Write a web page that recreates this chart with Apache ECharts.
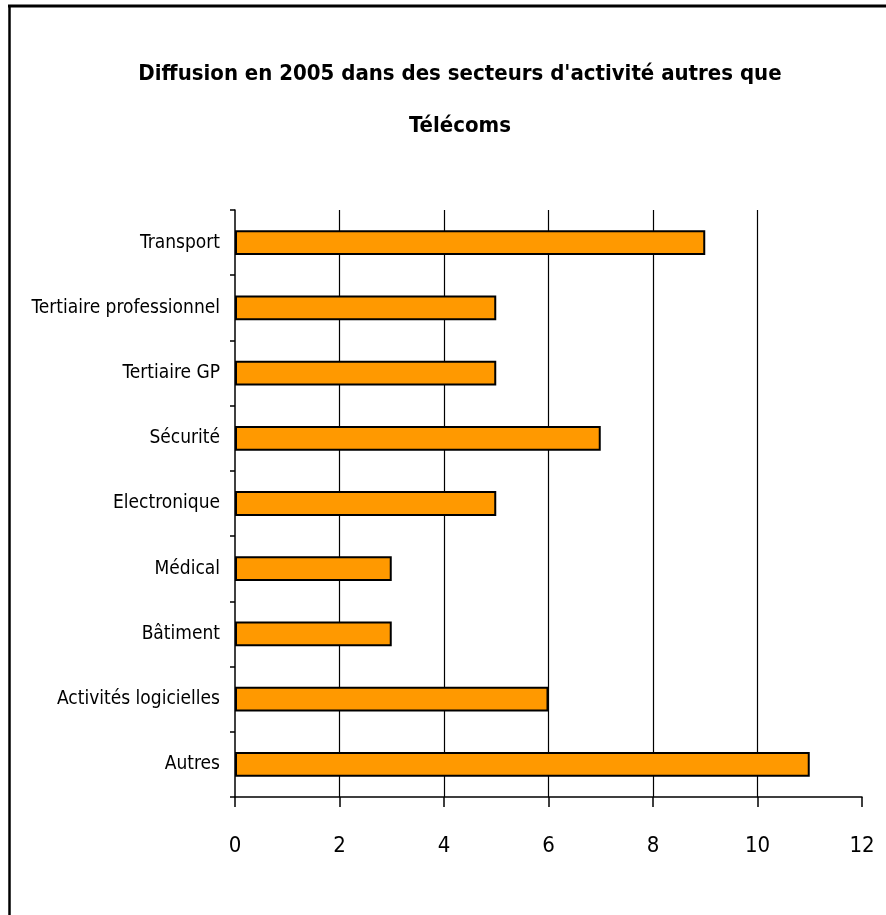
<!DOCTYPE html>
<html>
<head>
<meta charset="utf-8">
<script src="https://cdn.jsdelivr.net/npm/echarts@6/dist/echarts.min.js"></script>
<style>
html,body{margin:0;padding:0;background:#fff;}
#chart{width:886px;height:915px;}
</style>
</head>
<body>
<div id="chart"></div>
<script>
const categories = ['Transport','Tertiaire professionnel','Tertiaire GP','Sécurité','Electronique','Médical','Bâtiment','Activités logicielles','Autres'];
const values = [9,5,5,7,5,3,3,6,11];
const xTicks = [0,2,4,6,8,10,12];

const FONT = "'Liberation Sans Narrow','Arial Narrow','DejaVu Sans Condensed',sans-serif";
const chart = echarts.init(document.getElementById('chart'));
chart.setOption({
  backgroundColor:'#fff',
  animation:false,
  title:{
    text:'Diffusion en 2005 dans des secteurs d\'activité autres que\nTélécoms',
    left:455, top:43, textAlign:'center',
    textStyle:{fontFamily:FONT,fontSize:22,fontWeight:'bold',color:'#000',lineHeight:52}
  },
  grid:{left:235,right:24,top:210,bottom:118,containLabel:false},
  xAxis:{
    type:'value',min:0,max:12,interval:2,
    axisLine:{show:true,lineStyle:{color:'#000',width:1.5}},
    axisTick:{show:true,length:10,lineStyle:{color:'#000',width:1.5}},
    axisLabel:{fontFamily:FONT,fontSize:22,color:'#000',margin:38,
      formatter:v=>xTicks.includes(v)?String(v):''},
    splitLine:{show:true,showMinLine:false,showMaxLine:false,lineStyle:{color:'#000',width:1.2}}
  },
  yAxis:{
    type:'category',data:categories,inverse:true,
    axisLine:{show:true,lineStyle:{color:'#000',width:1.5}},
    axisTick:{show:true,length:5,lineStyle:{color:'#000',width:1.5}},
    axisLabel:{fontFamily:FONT,fontSize:19,color:'#000',margin:15}
  },
  series:[{
    type:'bar',data:values,barWidth:'38%',
    itemStyle:{color:'#FF9900',borderColor:'#000',borderWidth:2}
  }],
  graphic:[
    {type:'line',shape:{x1:8,y1:6,x2:886,y2:6},style:{stroke:'#000',lineWidth:3}},
    {type:'line',shape:{x1:9.5,y1:5,x2:9.5,y2:915},style:{stroke:'#000',lineWidth:2.5}}
  ]
});
</script>
</body>
</html>
